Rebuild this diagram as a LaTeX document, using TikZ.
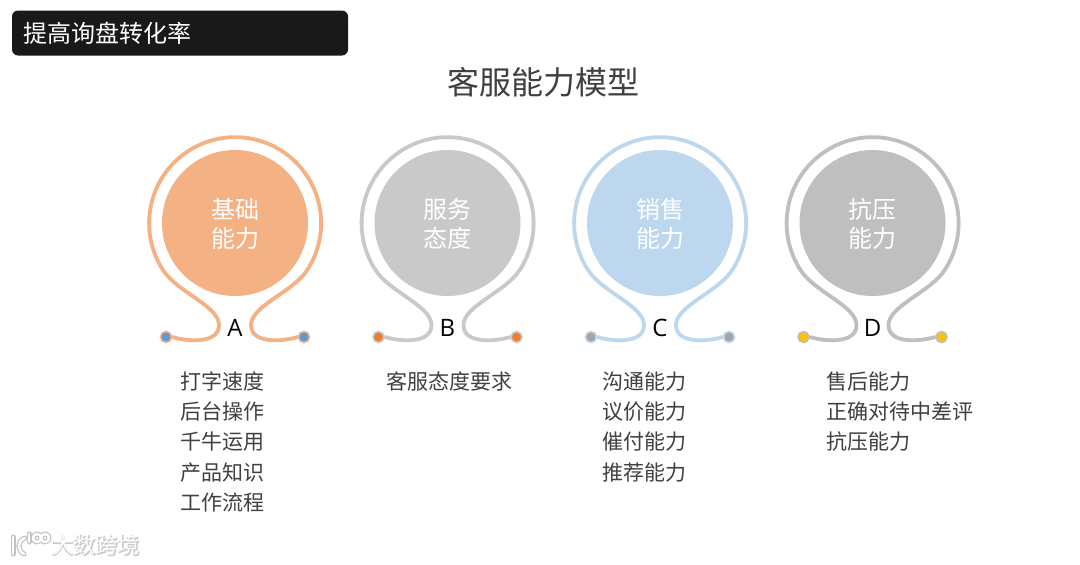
\documentclass[tikz,border=0pt]{standalone}
\usepackage{fontspec}
\setmainfont{Noto Sans CJK SC}
\newfontfamily\latinf{Open Sans}
\newfontfamily\boldcjk[FakeBold=4]{Noto Sans CJK SC}
\definecolor{txt}{HTML}{404040}
\definecolor{cA}{HTML}{F4B183}
\definecolor{cB}{HTML}{C9C9C9}
\definecolor{cC}{HTML}{BDD7EE}
\definecolor{cD}{HTML}{BFBFBF}
\definecolor{dA}{HTML}{5B9BD5}
\definecolor{dB}{HTML}{ED7D31}
\definecolor{dC}{HTML}{A5A5A5}
\definecolor{dD}{HTML}{FFC000}
\tikzset{
  ringline/.style={line width=3.8pt,line cap=round},
  disc/.style={circle,minimum size=146pt,inner sep=0pt},
  disctext/.style={inner sep=0pt,text=white,align=center,font=\fontsize{24}{29}\selectfont},
  dotmark/.style={circle,minimum size=11pt,inner sep=0pt,line width=1.6pt},
  letter/.style={font=\latinf\fontsize{24}{26}\selectfont,text=black},
  listtext/.style={anchor=north west,inner sep=0pt,align=left,text=txt,font=\fontsize{21}{30.25}\selectfont},
  logo/.style={line cap=round,line join=round},
}
\newcommand{\unitdraw}[6]{% name, cx, ring colour, disc colour, dot colour, disc text
  \begin{scope}[shift={(#2,0)}]
    \node[disc,fill=#4] (#1disc) at (0,223) {};
    \node[disctext] (#1text) at (0,224) {#6};
    \node[dotmark,fill=#5,draw=#3] (#1L) at (-69,337) {};
    \node[dotmark,fill=#5,draw=#3] (#1R) at (69,337) {};
    \draw[ringline,draw=#3] (#1L.east) .. controls (-50,341) and (-16,345) .. (-16,325)
      .. controls (-16,306) and (-58,292) .. (-72,270)
      arc[start angle=147,end angle=393,radius=86]
      .. controls (58,292) and (16,306) .. (16,325)
      .. controls (16,345) and (50,341) .. (#1R.west);
    \node[letter] (#1let) at (0,328) {#1};
  \end{scope}
}
\begin{document}
\begin{tikzpicture}[x=1pt,y=-1pt]
\useasboundingbox (0,0) rectangle (1080,565);
\fill[white] (0,0) rectangle (1080,565);
\node[draw=none,fill=black!90,rounded corners=6pt,minimum width=336pt,minimum height=45pt,inner sep=0pt] (head) at (180,33) {};
\node[anchor=west,inner sep=0pt,text=white,font=\fontsize{24}{28}\selectfont] (headtext) at (23,33) {提高询盘转化率};
\node[text=txt,inner sep=0pt,font=\fontsize{32}{38}\selectfont] (title) at (543,82) {客服能力模型};
\unitdraw{A}{235}{cA}{cA}{dA}{基础\\能力}
\unitdraw{B}{447.5}{cB}{cB}{dB}{服务\\态度}
\unitdraw{C}{660}{cC}{cC}{dC}{销售\\能力}
\unitdraw{D}{872.5}{cD}{cD}{dD}{抗压\\能力}
\node[listtext] (listA) at (180,371.5) {打字速度\\后台操作\\千牛运用\\产品知识\\工作流程};
\node[listtext] (listB) at (386.5,371.5) {客服态度要求};
\node[listtext] (listC) at (602.5,371.5) {沟通能力\\议价能力\\催付能力\\推荐能力};
\node[listtext] (listD) at (826.5,371.5) {售后能力\\正确对待中差评\\抗压能力};
% watermark
\foreach \w/\c in {5pt/black!24,2.6pt/white}{
  \draw[logo,line width=\w,draw=\c] (13,537) -- (13,554);
  \draw[logo,line width=\w,draw=\c] (25,538) .. controls (17,541) and (17,550) .. (24,554);
  \draw[logo,line width=\w,draw=\c] (29,534) -- (29,542);
  \draw[logo,line width=\w,draw=\c] (37,538) circle[radius=4];
  \draw[logo,line width=\w,draw=\c] (45,538) circle[radius=4];
}
\node[inner sep=0pt,text=black!22,font=\boldcjk\fontsize{22}{24}\selectfont] (wmshadow) at (96,545.5) {大数跨境};
\node[inner sep=0pt,text=white,font=\fontsize{22}{24}\selectfont] (wm) at (96,545.5) {大数跨境};
\end{tikzpicture}
\end{document}
